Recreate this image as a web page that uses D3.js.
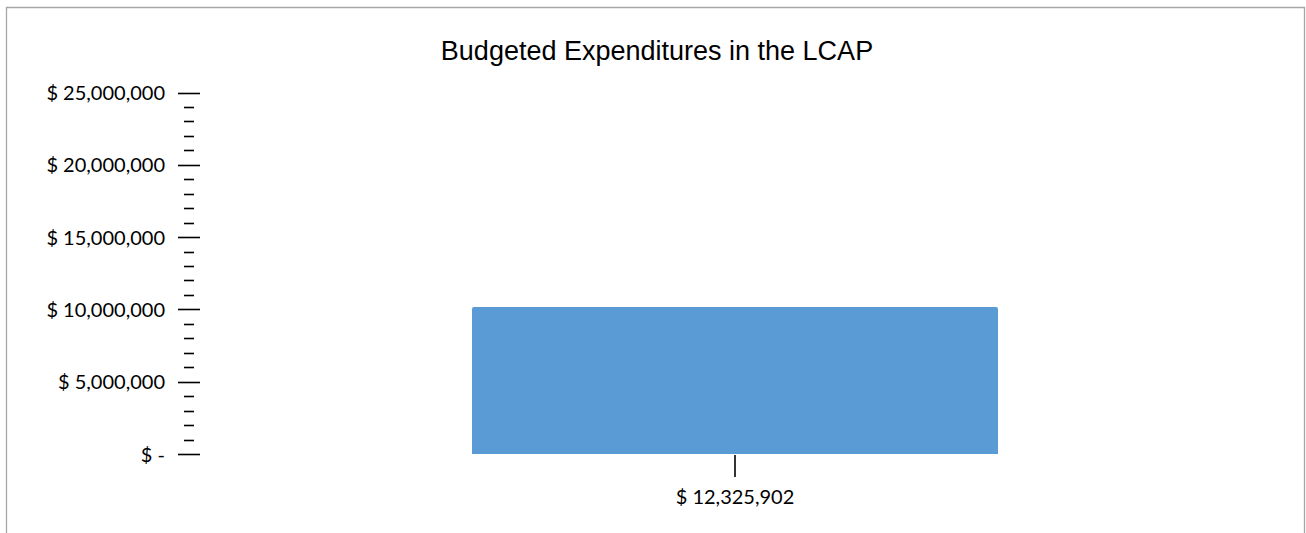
<!DOCTYPE html>
<html>
<head>
<meta charset="utf-8">
<script src="https://cdn.jsdelivr.net/npm/d3@7"></script>
<style>
  body { margin: 0; background: #fff; }
  svg { display: block; }
</style>
</head>
<body>
<script>
// chart data
var categories = ["$ 12,325,902"];
var values = [10170000];
var yTicks = [0, 5000000, 10000000, 15000000, 20000000, 25000000];
var yMinorTicks = d3.range(0, 25000001, 1000000);
var chartTitle = "Budgeted Expenditures in the LCAP";

var width = 1306, height = 533;

var svg = d3.select("body")
  .append("svg")
  .attr("width", width)
  .attr("height", height);

// outer chart border (bottom runs off the page)
svg.append("path")
  .attr("d", "M6.5," + height + "V7.5H1304.5V" + height)
  .attr("fill", "none")
  .attr("stroke", "#a6a6a6")
  .attr("stroke-width", 1.3);

svg.append("text")
  .attr("x", 657)
  .attr("y", 60)
  .attr("text-anchor", "middle")
  .attr("font-family", "Liberation Sans, Arial, sans-serif")
  .attr("font-size", 27)
  .attr("fill", "#000")
  .text(chartTitle);

var y = d3.scaleLinear()
  .domain([0, 25000000])
  .range([454, 92.5]);

var x = d3.scaleBand()
  .domain(categories)
  .range([209, 1261])
  .paddingInner(0.5)
  .paddingOuter(0.25);

var fmt = d3.format(",");
function money(d) { return d === 0 ? "$ -" : "$ " + fmt(d); }

// minor ticks
svg.append("g")
  .selectAll("line")
  .data(yMinorTicks.filter(function(d) { return d % 5000000 !== 0; }))
  .enter()
  .append("line")
  .attr("x1", 184)
  .attr("x2", 194)
  .attr("y1", function(d) { return Math.round(y(d)) + 0.5; })
  .attr("y2", function(d) { return Math.round(y(d)) + 0.5; })
  .attr("stroke", "#000")
  .attr("stroke-width", 1.6);

// major ticks + labels
var yAxis = d3.axisLeft(y)
  .tickValues(yTicks)
  .tickSize(0)
  .tickPadding(0)
  .tickFormat(money);

var gy = svg.append("g")
  .attr("transform", "translate(165,0)")
  .call(yAxis);
gy.select(".domain").remove();
gy.selectAll("text")
  .attr("font-family", "Lato, Calibri, sans-serif")
  .attr("font-size", 20)
  .attr("fill", "#000")
  .attr("dy", "0.35em");

svg.append("g")
  .selectAll("line")
  .data(yTicks)
  .enter()
  .append("line")
  .attr("x1", 178)
  .attr("x2", 200)
  .attr("y1", function(d) { return Math.round(y(d)) + 0.5; })
  .attr("y2", function(d) { return Math.round(y(d)) + 0.5; })
  .attr("stroke", "#000")
  .attr("stroke-width", 1.6);

// bar, only the top corners slightly rounded
var r = 2;
svg.append("g")
  .selectAll("path")
  .data(values)
  .enter()
  .append("path")
  .attr("d", function(d, i) {
    var x0 = x(categories[i]), x1 = x0 + x.bandwidth();
    var y0 = y(d), y1 = y(0);
    return "M" + x0 + "," + y1 + "V" + (y0 + r) +
      "Q" + x0 + "," + y0 + " " + (x0 + r) + "," + y0 +
      "H" + (x1 - r) + "Q" + x1 + "," + y0 + " " + x1 + "," + (y0 + r) +
      "V" + y1 + "Z";
  })
  .attr("fill", "#5b9bd5");

// x axis: tick + label, no domain
var xAxis = d3.axisBottom(x)
  .tickSize(22)
  .tickPadding(13);

var gx = svg.append("g")
  .attr("transform", "translate(0,455)")
  .call(xAxis);
gx.select(".domain").remove();
gx.selectAll(".tick line")
  .attr("stroke", "#000")
  .attr("stroke-width", 1.6);
gx.selectAll("text")
  .attr("font-family", "Lato, Calibri, sans-serif")
  .attr("font-size", 20)
  .attr("fill", "#000");
</script>
</body>
</html>
